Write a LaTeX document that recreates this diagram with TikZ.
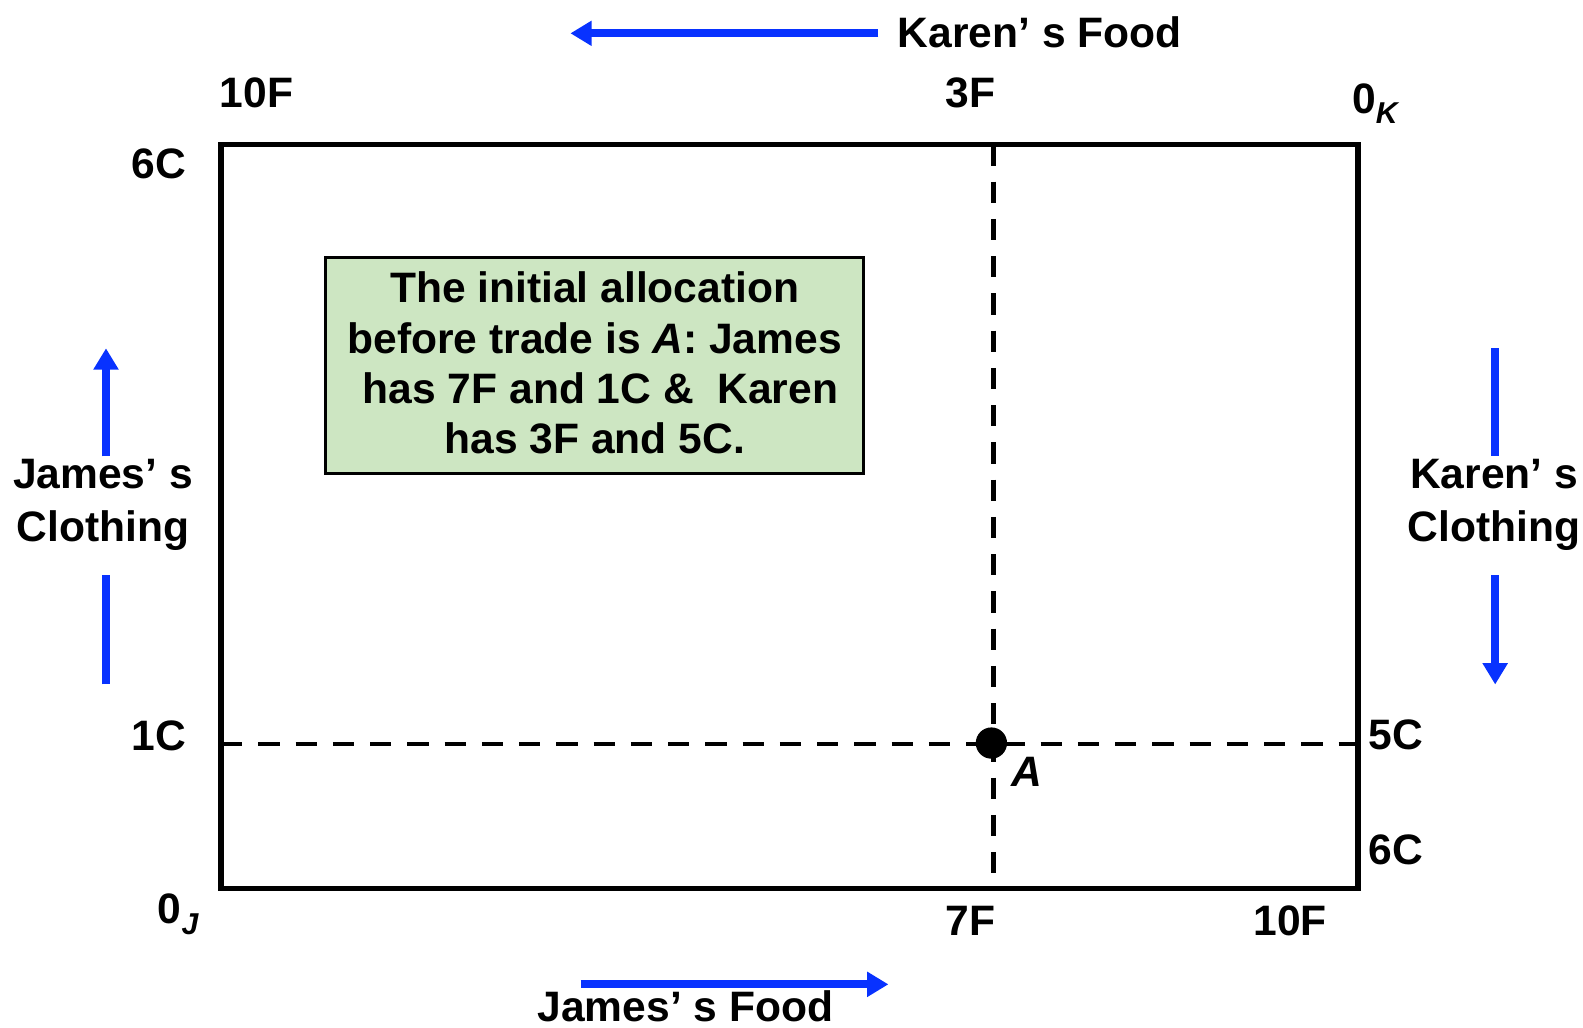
\documentclass[tikz,border=0pt]{standalone}
\usepackage{fontspec}
\setmainfont{Liberation Sans}
\usetikzlibrary{arrows.meta, positioning}
\definecolor{flowblue}{RGB}{8, 50, 255}
\definecolor{notegreen}{RGB}{205, 230, 194}
\newcommand{\orig}[1]{0\raisebox{-6pt}{\fontsize{17}{17}\selectfont\itshape #1}}

\tikzset{
  lbl/.style={font=\fontsize{24}{29.6}\selectfont\bfseries, inner sep=0pt, align=center},
  guide/.style={line width=2.5pt, dash pattern=on 12pt off 9pt},
  flow/.style={line width=4.5pt, flowblue, -{Triangle[length=12pt, width=13.5pt]}},
  flowline/.style={line width=4.5pt, flowblue}
}

\begin{document}
\begin{tikzpicture}[x=0.02cm, y=-0.02cm]
  \useasboundingbox (0,0) rectangle (1568,1018);

  % Edgeworth box
  \coordinate (jOrigin) at (219,880);
  \coordinate (kOrigin) at (1345,143);
  \draw[line width=3pt] (jOrigin) rectangle (kOrigin);

  % Initial allocation A
  \coordinate (alloc) at (984,737);
  \draw[guide] (alloc |- kOrigin) -- (alloc |- jOrigin);
  \draw[guide] (alloc -| jOrigin) -- (alloc -| kOrigin);
  \fill (alloc) ++(-2,-1) circle[radius=0.31cm];
  \node[lbl, font=\fontsize{24}{29.6}\selectfont\bfseries\itshape, anchor=base west] (labA) at (1002,779) {A};

  % Note box
  \node[lbl, draw, line width=1.3pt, fill=notegreen, minimum width=10.66cm, minimum height=4.28cm,
        font=\fontsize{24}{28.45}\selectfont\bfseries] (note) at (589,362)
    {\raisebox{3pt}{The initial allocation}\\\raisebox{3pt}{before trade is \textit{A}: James}\\
     \raisebox{3pt}{\ has 7F and 1C \&\ \ Karen}\\\raisebox{3pt}{has 3F and 5C.}};

  % Quantities on the box edges
  \foreach \nm/\x/\y/\anc/\txt in {topTen/254/106/base/10F, topThree/961/106/base/3F,
      leftSix/185/177/base east/6C, leftOne/185/743/base east/1C,
      botSeven/961/927/base/7F, botTen/1278/927/base/10F,
      rightFive/1355/742/base west/5C, rightSix/1355/856/base west/6C} {
    \node[lbl, anchor=\anc] (\nm) at (\x,\y) {\txt};
  }
  \node[lbl, anchor=base west] (labK) at (1339,112) {\orig{K}};
  \node[lbl, anchor=base west] (labJ) at (156,915) {\orig{J}};

  % Axis titles
  \node[lbl, anchor=base] (kFood) at (1030,47) {Karen’ s Food};
  \node[lbl, anchor=base] (jFood) at (679,1012) {James’ s Food};
  \node[lbl] (jCloth) at (102,500) {James’ s\\Clothing};
  \node[lbl] (kCloth) at (1480,500) {Karen’ s\\Clothing};

  % Direction arrows
  \coordinate (kfA) at (870,33);   \coordinate (kfB) at (565,33);
  \coordinate (jfA) at (575,975);  \coordinate (jfB) at (880,975);
  \coordinate (jcA) at (105,678);  \coordinate (jcB) at (105,570);
  \coordinate (jcC) at (105,452);  \coordinate (jcD) at (105,345);
  \coordinate (kcA) at (1481,345); \coordinate (kcB) at (1481,452);
  \coordinate (kcC) at (1481,570); \coordinate (kcD) at (1481,678);
  \draw[flow] (kfA) -- (kfB);
  \draw[flow] (jfA) -- (jfB);
  \draw[flowline] (jcA) -- (jcB);
  \draw[flow] (jcC) -- (jcD);
  \draw[flowline] (kcA) -- (kcB);
  \draw[flow] (kcC) -- (kcD);
\end{tikzpicture}
\end{document}
